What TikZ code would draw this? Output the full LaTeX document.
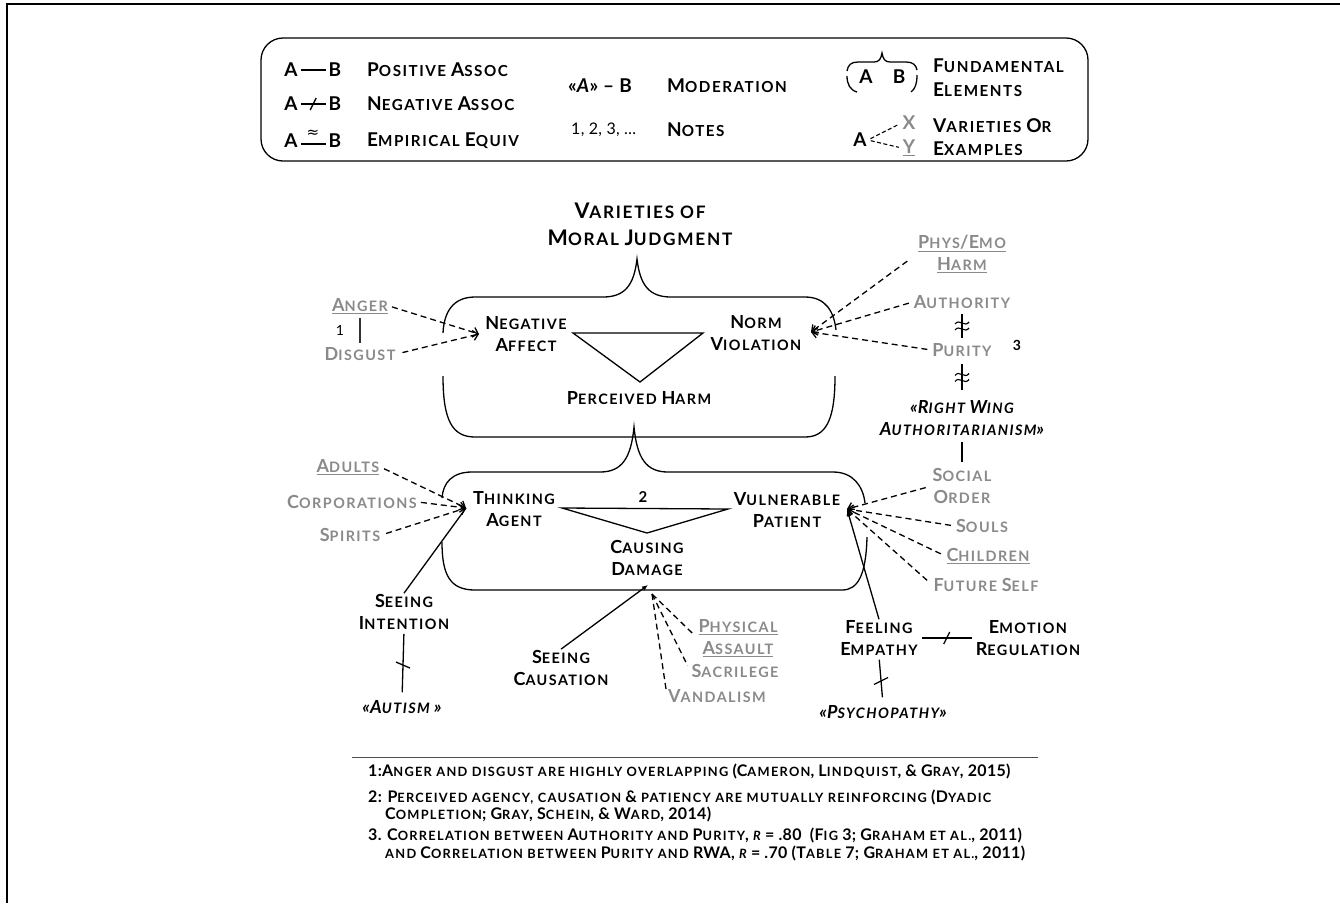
\documentclass[tikz,border=0pt]{standalone}
\usepackage{fontspec}
\setmainfont{Lato}[LetterSpace=2]
\newfontfamily\dejavu{DejaVu Sans}
\usetikzlibrary{arrows.meta}
\makeatletter
\newcommand\sm[1]{{\fontsize{\fpeval{0.8*\f@size}}{\f@baselineskip}\selectfont\addfontfeature{LetterSpace=10}\MakeUppercase{#1}}}
\makeatother
\definecolor{txtgray}{RGB}{138,138,138}
\tikzset{
 lab/.style={font=\bfseries\fontsize{18}{22}\selectfont, align=center, inner sep=1pt},
 glab/.style={lab, text=txtgray},
 ilab/.style={lab, font=\bfseries\itshape\fontsize{18}{22}\selectfont},
 leg/.style={font=\bfseries\fontsize{19}{22}\selectfont, align=center, inner sep=1pt},
 ttl/.style={font=\bfseries\fontsize{21.5}{27}\selectfont, align=center, inner sep=1pt},
 foot/.style={font=\bfseries\fontsize{16}{16}\selectfont, anchor=west, inner sep=0pt},
 sline/.style={line width=1.3pt},
 tick/.style={line width=1.3pt},
 wave/.style={line width=1.1pt},
 dline/.style={line width=1.3pt, dash pattern=on 6pt off 4pt},
 darr/.style={dline, -{Straight Barb[length=5pt,width=10pt]}},
}
\begin{document}
\begin{tikzpicture}[x=1pt,y=-1pt]
\useasboundingbox (0,0) rectangle (1340,903);
% frame
\draw[line width=1.5pt] (7,903) -- (7,4) -- (1340,4);
% legend box
\draw[line width=1.3pt, rounded corners=22pt] (261,38) rectangle (1088,161);
\node[leg] (pa) at (291,70) {A};
\node[leg] (pb) at (335,70) {B};
\draw[sline,shorten <=2pt,shorten >=2pt] (pa.east) -- (pb.west);
\node[leg,anchor=west] (pl) at (366,70) {P\sm{ositive} A\sm{ssoc}};
\node[leg] (na) at (291,104) {A};
\node[leg] (nb) at (335,104) {B};
\draw[sline,shorten <=2pt,shorten >=2pt] (na.east) -- coordinate (nm) (nb.west);
\draw[tick] ([shift={(-3,6)}]nm) -- ([shift={(3,-6)}]nm);
\node[leg,anchor=west] (nl) at (366,104) {N\sm{egative} A\sm{ssoc}};
\node[leg] (ea) at (291,141) {A};
\node[leg] (eb) at (335,141) {B};
\draw[sline,shorten <=2pt,shorten >=2pt] ([yshift=-3pt]ea.east) -- ([yshift=-3pt]eb.west);
\node[font=\dejavu\fontsize{15}{15}\selectfont, inner sep=0pt] (eqs) at (313,134) {≈};
\node[leg,anchor=west] (el) at (366,141) {E\sm{mpirical} E\sm{quiv}};
\node[leg,anchor=west] (mods) at (567,86) {«\textit{A}» – B};
\node[leg,anchor=west] (modl) at (666,86) {M\sm{oderation}};
\node[leg,anchor=west,font=\fontsize{16}{18}\selectfont] (nots) at (570,130) {1, 2, 3, …};
\node[leg,anchor=west] (notl) at (666,130) {N\sm{otes}};
% mini container
\node[leg] (fa) at (866,77) {A};
\node[leg] (fb) at (899,77) {B};
\draw[sline] (847,71) .. controls (848,65) and (851,62) .. (858,62) -- (874,62) .. controls (879,62) and (881,59) .. (882,53) .. controls (883,59) and (885,62) .. (890,62) -- (906,62) .. controls (913,62) and (916,65) .. (917,70);
\draw[sline] (847,76) .. controls (847,84) and (850,90) .. (857,92);
\draw[sline] (917,75) .. controls (917,84) and (915,89) .. (911,92);
\node[leg,anchor=west] (fl) at (932,67) {F\sm{undamental}\vphantom{g}};
\node[leg,anchor=west] (fl2) at (932,90) {E\sm{lements}};
\node[leg] (va) at (860,140) {A};
\node[leg,text=txtgray] (vx) at (909,123) {X};
\node[leg,text=txtgray] (vy) at (909,148) {\underline{Y}};
\draw[line width=1.1pt, dash pattern=on 4pt off 2.5pt, shorten <=3pt, shorten >=3pt] (va.east) -- (vx.west);
\draw[line width=1.1pt, dash pattern=on 4pt off 2.5pt, shorten <=3pt, shorten >=3pt] (va.east) -- (vy.west);
\node[leg,anchor=west] (vl) at (932,126) {V\sm{arieties} O\sm{r}};
\node[leg,anchor=west] (vl2) at (932,149) {E\sm{xamples}};
% title
\node[ttl] (title) at (640,224) {V\sm{arieties of}\\M\sm{oral} J\sm{udgment}};
% upper container
\draw[sline] (443,333) .. controls (444,312) and (453,297) .. (475,297) -- (603,297) .. controls (625,297) and (634,285) .. (637,259) .. controls (640,285) and (649,297) .. (671,297) -- (805,297) .. controls (826,297) and (834,312) .. (836,330);
\draw[sline] (443,376) .. controls (443,420) and (452,437) .. (475,437) -- (805,437) .. controls (826,437) and (835,420) .. (835,376);
% lower container
\draw[sline] (442,498) .. controls (443,483) and (452,472) .. (472,472) -- (600,472) .. controls (622,472) and (631,458) .. (634,427) .. controls (637,458) and (646,472) .. (668,472) -- (833,472) .. controls (853,472) and (863,486) .. (865,503);
\draw[sline] (442,542) .. controls (442,575) and (450,590) .. (475,590) -- (842,590) .. controls (858,590) and (866,575) .. (867,537);
% upper content
\node[lab] (negaff) at (526,334) {N\sm{egative}\\A\sm{ffect}};
\node[lab] (normvio) at (756,333) {N\sm{orm}\\V\sm{iolation}};
\node[lab] (perharm) at (639,398) {P\sm{erceived} H\sm{arm}};
\draw[sline, line join=miter] (573,333) -- (703,333) -- (640,382) -- cycle;
\node[glab] (anger) at (360,306) {\underline{A\sm{nger}}};
\node[glab] (disgust) at (360,354) {D\sm{isgust}};
\node[font=\fontsize{14}{14}\selectfont, inner sep=0pt] (n1) at (340,330) {1};
\draw[sline, draw=black!80, shorten <=3pt, shorten >=3pt] (anger.south) -- (disgust.north);
\coordinate (naTip) at (479,334);
\draw[darr, shorten <=3pt] (anger.east) -- (naTip);
\draw[darr, shorten <=6pt] (disgust.east) -- (naTip);
\node[glab] (physemo) at (962,254) {\underline{P\sm{hys}/E\sm{mo}}\\\underline{H\sm{arm}}};
\node[glab] (authority) at (962,302) {A\sm{uthority}};
\node[glab] (purity) at (962,350) {P\sm{urity}};
\node[font=\bfseries\fontsize{14}{14}\selectfont, inner sep=0pt] (n3) at (1017,345) {3};
\node[ilab] (rwa) at (962,418) {«R\sm{ight} W\sm{ing}\\A\sm{uthoritarianism}»};
\coordinate (nvTip) at (811,332);
\draw[darr, shorten <=12pt] (physemo.west) -- (nvTip);
\draw[darr, shorten <=4pt] (authority.west) -- (nvTip);
\draw[darr, shorten <=4pt] (purity.west) -- (nvTip);
\draw[sline, shorten <=4pt, shorten >=4pt] (authority.south) -- coordinate (e1) (purity.north);
\draw[wave] ([shift={(-7,-2)}]e1) .. controls ([shift={(-3,-8)}]e1) and ([shift={(3,2)}]e1) .. ([shift={(7,-4)}]e1);
\draw[wave] ([shift={(-7,4)}]e1) .. controls ([shift={(-3,-2)}]e1) and ([shift={(3,8)}]e1) .. ([shift={(7,2)}]e1);
\draw[sline, shorten <=6pt, shorten >=9pt] (purity.south) -- coordinate (e2) (rwa.north);
\draw[wave] ([shift={(-7,-3)}]e2) .. controls ([shift={(-3,-9)}]e2) and ([shift={(3,1)}]e2) .. ([shift={(7,-5)}]e2);
\draw[wave] ([shift={(-7,3)}]e2) .. controls ([shift={(-3,-3)}]e2) and ([shift={(3,7)}]e2) .. ([shift={(7,1)}]e2);
% lower content
\node[lab] (thinking) at (514,509) {T\sm{hinking}\\A\sm{gent}};
\node[lab] (vulner) at (787,510) {V\sm{ulnerable}\\P\sm{atient}};
\node[font=\bfseries\fontsize{15}{15}\selectfont, inner sep=0pt] (n2) at (643,497) {2};
\draw[sline, line join=miter] (562,508) -- (728,509) -- (647,533) -- cycle;
\node[lab] (causing) at (647,558) {C\sm{ausing}\\D\sm{amage}};
\node[glab] (adults) at (348,467) {\underline{A\sm{dults}}};
\node[glab] (corp) at (352,502) {C\sm{orporations}};
\node[glab] (spirits) at (350,535) {S\sm{pirits}};
\coordinate (taTip) at (466,508);
\draw[darr, shorten <=4pt] (adults.east) -- (taTip);
\draw[darr, shorten <=3pt] (corp.east) -- (taTip);
\draw[darr, shorten <=5pt] (spirits.east) -- (taTip);
\node[glab] (social) at (962,486) {S\sm{ocial}\\O\sm{rder}};
\node[glab] (souls) at (982,526) {S\sm{ouls}};
\node[glab] (children) at (988,556) {\underline{C\sm{hildren}}};
\node[glab] (future) at (986,585) {F\sm{uture} S\sm{elf}};
\draw[sline, shorten <=5pt, shorten >=5pt] (rwa.south) -- (social.north);
\coordinate (vpTip) at (847,509);
\draw[darr, shorten <=6pt] (social.west) -- (vpTip);
\draw[darr, shorten <=4pt] (souls.west) -- (vpTip);
\draw[darr, shorten <=5pt] (children.west) -- (vpTip);
\draw[darr, shorten <=7pt] (future.west) -- (vpTip);
% below
\node[lab] (seeint) at (404,612) {S\sm{eeing}\\I\sm{ntention}};
\node[ilab] (autism) at (402,707) {«A\sm{utism} »};
\draw[sline] (seeint.north) -- (taTip);
\draw[sline, shorten <=3pt, shorten >=7pt] (seeint.south) -- coordinate (t1) (autism.north);
\draw[tick] ([shift={(-7,-3)}]t1) -- ([shift={(7,3)}]t1);
\node[lab] (seecaus) at (561,668) {S\sm{eeing}\\C\sm{ausation}};
\coordinate (cdTip) at (648,585);
\draw[sline, -{Latex[length=6pt,width=5pt]}] (seecaus.north) -- (cdTip);
\node[glab] (physical) at (738,638) {\underline{P\sm{hysical}}\\\underline{A\sm{ssault}}};
\node[glab] (sacri) at (735,671) {S\sm{acrilege}};
\node[glab] (vandal) at (717,696) {V\sm{andalism}};
\coordinate (cdFan) at (652,594);
\draw[dline, shorten >=4pt] (cdFan) -- (physical.west);
\draw[dline, shorten >=6pt] (cdFan) -- (sacri.west);
\draw[dline, shorten >=7pt] (cdFan) -- (vandal.west);
\node[lab] (feeling) at (879,638) {F\sm{eeling}\\E\sm{mpathy}};
\node[lab] (emotion) at (1028,638) {E\sm{motion}\\R\sm{egulation}};
\node[ilab] (psycho) at (883,712) {«P\sm{sychopathy}»};
\draw[sline, -{Latex[length=7pt,width=5pt]}] (feeling.north) -- (vpTip);
\draw[sline, shorten <=3pt, shorten >=3pt] (feeling.east) -- coordinate (t2) (emotion.west);
\draw[tick] ([shift={(-3,6)}]t2) -- ([shift={(3,-6)}]t2);
\draw[sline, shorten <=3pt, shorten >=7pt] (feeling.south) -- coordinate (t3) (psycho.north);
\draw[tick] ([shift={(-7,4)}]t3) -- ([shift={(7,-3)}]t3);
% footer
\draw[line width=1pt, draw=black!70] (352,757) -- (1038,757);
\node[foot] (f1) at (368,771) {1:A\sm{nger and disgust are highly overlapping} (C\sm{ameron}, L\sm{indquist}, \& G\sm{ray}, 2015)};
\node[foot] (f2) at (368,797) {2: P\sm{erceived agency, causation} \& \sm{patiency are mutually reinforcing} (D\sm{yadic}};
\node[foot] (f2b) at (385,814) {C\sm{ompletion}; G\sm{ray}, S\sm{chein}, \& W\sm{ard}, 2014)};
\node[foot] (f3) at (368,835) {3. C\sm{orrelation between} A\sm{uthority and} P\sm{urity}, {\itshape\sm{r}} = .80\ \ (F\sm{ig} 3; G\sm{raham et al.}, 2011)};
\node[foot] (f3b) at (385,853) {\sm{and} C\sm{orrelation between} P\sm{urity and} RWA, {\itshape\sm{r}} = .70 (T\sm{able} 7; G\sm{raham et al.}, 2011)};
\end{tikzpicture}
\end{document}
